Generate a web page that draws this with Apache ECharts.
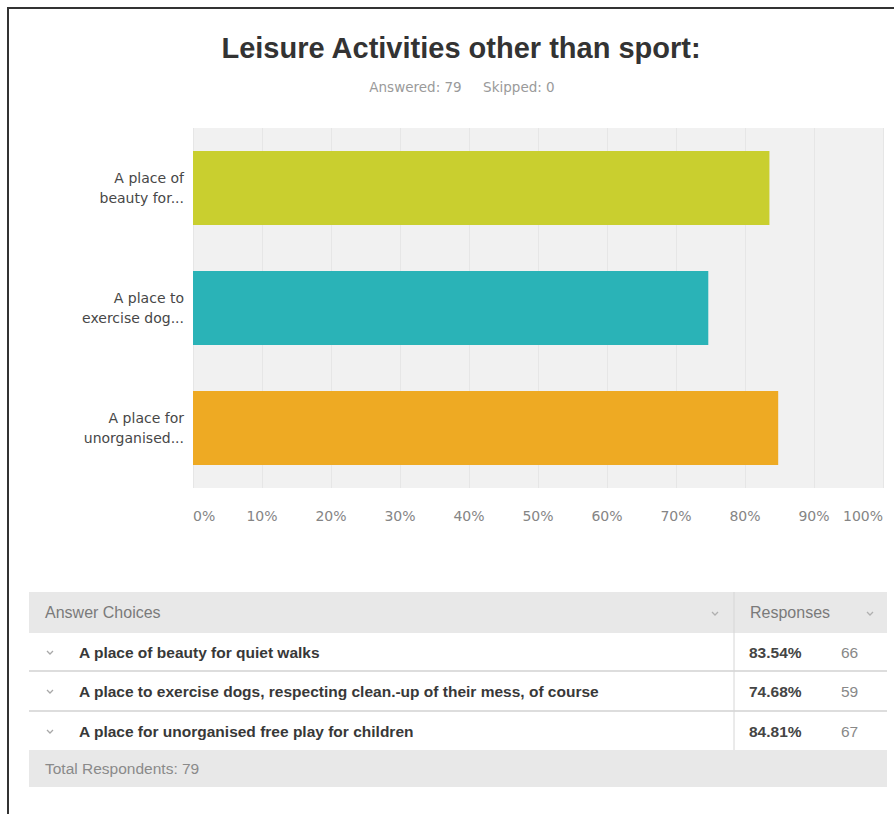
<!DOCTYPE html>
<html>
<head>
<meta charset="utf-8">
<script src="https://cdn.jsdelivr.net/npm/echarts@6/dist/echarts.min.js"></script>
<style>
html,body{margin:0;padding:0;background:#fff;}
#chart{width:894px;height:814px;}
</style>
</head>
<body>
<div id="chart"></div>
<script>
// ---- data ----
const chartTitle = 'Leisure Activities other than sport:';
const answered = 79;
const skipped = 0;
const axisCategories = ['A place of\nbeauty for...', 'A place to\nexercise dog...', 'A place for\nunorganised...'];
const answerChoices = [
  'A place of beauty for quiet walks',
  'A place to exercise dogs, respecting clean.-up of their mess, of course',
  'A place for unorganised free play for children'
];
const responsePercents = [83.54, 74.68, 84.81];
const responseCounts = [66, 59, 67];
const barColors = ['#c9cf2f', '#2ab3b7', '#eeaa23'];
const totalRespondents = 79;

// ---- layout ----
const W = 894;
const tableLeft = 29, tableRight = 887, dividerX = 734;
const headerTop = 592, headerH = 41;
const rowTops = [633, 672, 712];
const rowH = 39;
const footerTop = 750, footerH = 37;

const chart = echarts.init(document.getElementById('chart'), null, {renderer: 'svg'});

const graphics = [];
// page frame
graphics.push({type: 'rect', shape: {x: 8, y: 8, width: W, height: 820}, style: {fill: 'none', stroke: '#333', lineWidth: 2}, silent: true});
// header background
graphics.push({type: 'rect', shape: {x: tableLeft, y: headerTop, width: tableRight - tableLeft, height: headerH}, style: {fill: '#e8e8e8'}});
// footer background
graphics.push({type: 'rect', shape: {x: tableLeft, y: footerTop, width: tableRight - tableLeft, height: footerH}, style: {fill: '#e8e8e8'}});
// row separators
[rowTops[1], rowTops[2]].forEach(function (y) {
  graphics.push({type: 'line', shape: {x1: tableLeft, y1: y - 1, x2: tableRight, y2: y - 1}, style: {stroke: '#dddddd', lineWidth: 2}});
});
// vertical divider
graphics.push({type: 'line', shape: {x1: dividerX, y1: headerTop, x2: dividerX, y2: footerTop}, style: {stroke: '#d6d6d6', lineWidth: 1}});

function chevron(cx, cy, color) {
  return {type: 'polyline', shape: {points: [[cx - 3, cy - 1.5], [cx, cy + 1.5], [cx + 3, cy - 1.5]]}, style: {stroke: color, lineWidth: 1.3, fill: 'none'}};
}
// header texts
graphics.push({type: 'text', x: 45, y: headerTop + headerH / 2, style: {text: 'Answer Choices', font: '16px "Liberation Sans", Arial, sans-serif', fill: '#7a7a7a', verticalAlign: 'middle'}});
graphics.push({type: 'text', x: 750, y: headerTop + headerH / 2, style: {text: 'Responses', font: '16px "Liberation Sans", Arial, sans-serif', fill: '#7a7a7a', verticalAlign: 'middle'}});
graphics.push(chevron(715, headerTop + headerH / 2 + 1, '#b0b0b0'));
graphics.push(chevron(870, headerTop + headerH / 2 + 1, '#b0b0b0'));

answerChoices.forEach(function (label, i) {
  const cy = rowTops[i] + rowH / 2;
  graphics.push(chevron(50, cy, '#a8a8a8'));
  graphics.push({type: 'text', x: 79, y: cy, style: {text: label, font: 'bold 15.5px "Liberation Sans", Arial, sans-serif', fill: '#383838', verticalAlign: 'middle'}});
  graphics.push({type: 'text', x: 749, y: cy, style: {text: responsePercents[i].toFixed(2) + '%', font: 'bold 15.5px "Liberation Sans", Arial, sans-serif', fill: '#444', verticalAlign: 'middle'}});
  graphics.push({type: 'text', x: 841, y: cy, style: {text: String(responseCounts[i]), font: '15.5px "Liberation Sans", Arial, sans-serif', fill: '#888', verticalAlign: 'middle'}});
});
graphics.push({type: 'text', x: 45, y: footerTop + footerH / 2, style: {text: 'Total Respondents: ' + totalRespondents, font: '15.5px "Liberation Sans", Arial, sans-serif', fill: '#8a8a8a', verticalAlign: 'middle'}});

chart.setOption({
  animation: false,
  backgroundColor: '#ffffff',
  title: [
    {text: chartTitle, left: 456, top: 28, textAlign: 'center',
     textStyle: {fontFamily: '"Liberation Sans", Arial, sans-serif', fontWeight: 'bold', fontSize: 29, color: '#333'}},
    {text: 'Answered: ' + answered + '     Skipped: ' + skipped, left: 457, top: 75, textAlign: 'center',
     textStyle: {fontFamily: '"DejaVu Sans", sans-serif', fontWeight: 'normal', fontSize: 13.5, color: '#9a9a9a'}}
  ],
  grid: {left: 193, right: 11, top: 128, bottom: 326, show: true, backgroundColor: '#f1f1f1', borderWidth: 0, containLabel: false},
  xAxis: {
    type: 'value', min: 0, max: 100, interval: 10,
    axisLine: {show: false}, axisTick: {show: false},
    splitLine: {show: true, lineStyle: {color: '#e6e6e6', width: 1}},
    axisLabel: {formatter: '{value}%', margin: 21, fontFamily: '"DejaVu Sans", sans-serif', fontSize: 14, color: '#858585',
                alignMinLabel: 'left', alignMaxLabel: 'right'}
  },
  yAxis: {
    type: 'category', data: axisCategories, inverse: true,
    axisLine: {show: false}, axisTick: {show: false}, splitLine: {show: false},
    axisLabel: {margin: 9, fontFamily: '"DejaVu Sans", sans-serif', fontSize: 14, lineHeight: 20, color: '#474747', align: 'right',
                padding: [6, 0, 0, 0]}
  },
  series: [{
    type: 'bar', barWidth: 74,
    data: responsePercents.map(function (v, i) { return {value: v, itemStyle: {color: barColors[i]}}; }),
    silent: true
  }],
  graphic: graphics
});
</script>
</body>
</html>
